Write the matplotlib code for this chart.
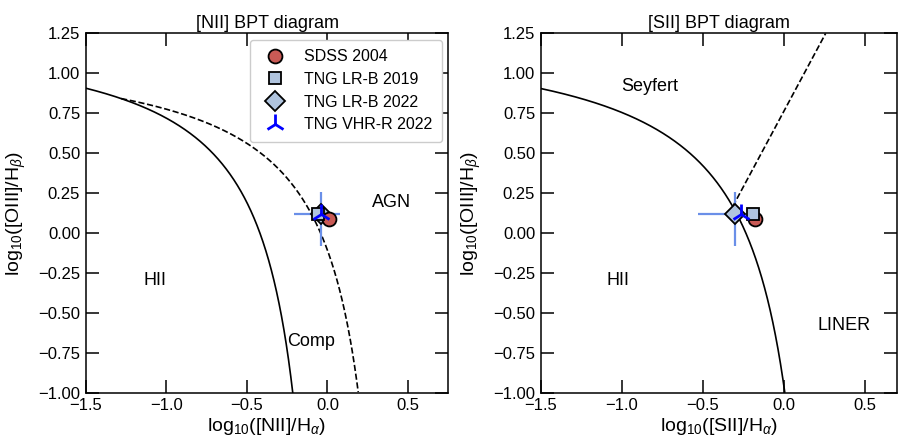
import numpy as np
import matplotlib
matplotlib.use("Agg")
import matplotlib.pyplot as plt

plt.rcParams["font.family"] = ["Liberation Sans", "DejaVu Sans"]
plt.rcParams["mathtext.fontset"] = "custom"
plt.rcParams["mathtext.rm"] = "Liberation Sans"
plt.rcParams["mathtext.it"] = "Liberation Sans:italic"

# ===================== data =====================
labels = ["SDSS 2004", "TNG LR-B 2019", "TNG LR-B 2022", "TNG VHR-R 2022"]
nii_ha = [0.01, -0.06, -0.04, -0.04]
oiii_hb_nii = [0.09, 0.12, 0.12, 0.12]
sii_ha = [-0.18, -0.19, -0.30, -0.265]
oiii_hb_sii = [0.085, 0.12, 0.12, 0.12]

# LR-B 2022 scatter (lower, upper)
xerr_nii = [[0.17], [0.12]]
xerr_sii = [[0.23], [0.10]]
yerr = [[0.20], [0.135]]

# ===================== style =====================
markers = ["o", "s", "D", "2"]
faces = ["#c95a55", "#b0c4de", "#b0c4de", "blue"]
edges = ["black", "black", "black", "blue"]
sizes = [10, 9, 10, 14]
zorders = [5, 6, 4, 7]


def kauffmann03(x):
    return 0.61 / (x - 0.05) + 1.3


def kewley01_nii(x):
    return 0.61 / (x - 0.47) + 1.19


def kewley01_sii(x):
    return 0.72 / (x - 0.32) + 1.30


def seyfert_liner(x):
    return 1.89 * x + 0.76


def style_axes(ax):
    ax.set_ylim(-1.0, 1.25)
    ax.set_yticks([-1.0, -0.75, -0.5, -0.25, 0.0, 0.25, 0.5, 0.75, 1.0, 1.25])
    ax.set_yticklabels([f"{v:.2f}".replace("-", "\u2212") for v in ax.get_yticks()])
    ax.set_xticks([-1.5, -1.0, -0.5, 0.0, 0.5])
    ax.set_xticklabels(["\u22121.5", "\u22121.0", "\u22120.5", "0.0", "0.5"])
    ax.tick_params(direction="in", length=9.5, width=1.1, top=True, right=True, labelsize=12, pad=4)
    for s in ax.spines.values():
        s.set_linewidth(1.1)


def draw_points(ax, xs, ys, xerr):
    ax.errorbar(xs[2], ys[2], xerr=xerr, yerr=yerr, fmt="none", ecolor="#6a8fe8",
                elinewidth=1.6, capsize=0, zorder=3)
    for i in range(4):
        ax.plot(xs[i], ys[i], linestyle="none", marker=markers[i], markersize=sizes[i],
                markerfacecolor=faces[i], markeredgecolor=edges[i],
                markeredgewidth=1.3 if i < 3 else 2.0, label=labels[i], zorder=zorders[i])


fig = plt.figure(figsize=(8.99, 4.41), dpi=100)
ax1 = fig.add_axes([85.7 / 899, 48.3 / 441, 362.6 / 899, 359.4 / 441])
ax2 = fig.add_axes([540.7 / 899, 48.3 / 441, 356.4 / 899, 359.4 / 441])

# ---------- [NII] BPT ----------
x = np.linspace(-1.5, 0.0, 2000)
y = kauffmann03(x)
m = y >= -1.0
ax1.plot(x[m], y[m], color="black", lw=1.2)

# Kewley max-starburst line, only where it sits above Kauffmann
x = np.linspace(-1.5, 0.4, 3000)
y = kewley01_nii(x)
above = np.where(x < 0.0, y >= kauffmann03(x), True)
m = (y >= -1.0) & above
ax1.plot(x[m], y[m], color="black", lw=1.2, ls="--")

draw_points(ax1, nii_ha, oiii_hb_nii, xerr_nii)

ax1.text(-1.07, -0.30, "HII", fontsize=13, ha="center", va="center")
ax1.text(-0.10, -0.68, "Comp", fontsize=13, ha="center", va="center")
ax1.text(0.40, 0.19, "AGN", fontsize=13, ha="center", va="center")

ax1.set_xlim(-1.5, 0.75)
style_axes(ax1)
ax1.set_xlabel(r"log$_{10}$([NII]/H$_{\alpha}$)", fontsize=14, labelpad=2)
ax1.set_ylabel(r"log$_{10}$([OIII]/H$_{\beta}$)", fontsize=14, labelpad=7)
ax1.set_title("[NII] BPT diagram", fontsize=13, pad=4)
ax1.legend(loc="upper right", fontsize=11.5, handletextpad=0.8, borderpad=0.6,
           labelspacing=0.48, borderaxespad=0.4, framealpha=1)

# ---------- [SII] BPT ----------
x = np.linspace(-1.5, 0.1, 2000)
y = kewley01_sii(x)
m = y >= -1.0
ax2.plot(x[m], y[m], color="black", lw=1.2)

# Seyfert / LINER line starts where it meets the Kewley curve
x0 = (1.1448 - np.sqrt(1.1448 ** 2 + 4 * 1.89 * 0.5472)) / (2 * 1.89)
x = np.linspace(x0, 0.7, 500)
y = seyfert_liner(x)
m = y <= 1.25
ax2.plot(x[m], y[m], color="black", lw=1.2, ls="--")

draw_points(ax2, sii_ha, oiii_hb_sii, xerr_sii)

ax2.text(-0.83, 0.92, "Seyfert", fontsize=13, ha="center", va="center")
ax2.text(-1.02, -0.30, "HII", fontsize=13, ha="center", va="center")
ax2.text(0.37, -0.58, "LINER", fontsize=13, ha="center", va="center")

ax2.set_xlim(-1.5, 0.7)
style_axes(ax2)
ax2.set_xlabel(r"log$_{10}$([SII]/H$_{\alpha}$)", fontsize=14, labelpad=2)
ax2.set_ylabel(r"log$_{10}$([OIII]/H$_{\beta}$)", fontsize=14, labelpad=7)
ax2.set_title("[SII] BPT diagram", fontsize=13, pad=4)

fig.savefig("out.png", dpi=100)
